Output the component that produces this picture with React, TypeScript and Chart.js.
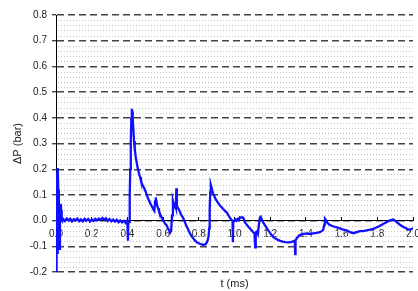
import React, { useEffect, useRef } from "react";
import { Chart, registerables } from "chart.js";

Chart.register(...registerables);

// time (ms)
const tMs = [
  0.000, 0.002, 0.004, 0.006, 0.008, 0.011, 0.013, 0.016, 0.019, 0.022, 0.025, 0.027, 0.029, 0.032, 0.036,
  0.04, 0.05, 0.06, 0.07, 0.08, 0.09, 0.10, 0.11, 0.12, 0.13, 0.14, 0.15, 0.16, 0.17, 0.18, 0.19,
  0.20, 0.21, 0.22, 0.23, 0.24, 0.25, 0.26, 0.27, 0.28, 0.29, 0.30, 0.31, 0.32, 0.33, 0.34, 0.35,
  0.36, 0.37, 0.38, 0.39, 0.395, 0.400, 0.403, 0.405, 0.410, 0.413, 0.416, 0.419, 0.422, 0.425,
  0.427, 0.429, 0.431, 0.433, 0.437, 0.441, 0.446, 0.451, 0.456, 0.461, 0.466, 0.471, 0.476, 0.481,
  0.487, 0.493, 0.499, 0.505, 0.511, 0.517, 0.523, 0.529, 0.535, 0.541, 0.547, 0.551, 0.555, 0.559,
  0.563, 0.567, 0.572, 0.577, 0.583, 0.589, 0.595, 0.601, 0.607, 0.613, 0.620, 0.626, 0.632, 0.639,
  0.645, 0.650, 0.655, 0.660, 0.664, 0.668, 0.672, 0.674, 0.677, 0.681, 0.687, 0.693, 0.699, 0.705,
  0.713, 0.721, 0.729, 0.737, 0.745, 0.753, 0.761, 0.770, 0.779, 0.789, 0.799, 0.809, 0.819, 0.829,
  0.838, 0.845, 0.850, 0.855, 0.858, 0.861, 0.864, 0.867, 0.871, 0.876, 0.881, 0.887, 0.893, 0.900,
  0.907, 0.914, 0.921, 0.928, 0.935, 0.942, 0.949, 0.956, 0.963, 0.970, 0.977, 0.984, 0.989, 0.991,
  0.993, 0.999, 1.005, 1.011, 1.017, 1.023, 1.030, 1.037, 1.044, 1.050, 1.057, 1.064, 1.072, 1.080,
  1.088, 1.096, 1.104, 1.112, 1.116, 1.119, 1.125, 1.131, 1.136, 1.142, 1.147, 1.152, 1.158, 1.165,
  1.172, 1.180, 1.189, 1.198, 1.208, 1.218, 1.230, 1.243, 1.256, 1.270, 1.285, 1.300, 1.315, 1.328,
  1.338, 1.340, 1.342, 1.352, 1.362, 1.375, 1.390, 1.405, 1.420, 1.440, 1.460, 1.478, 1.490, 1.497,
  1.503, 1.507, 1.512, 1.520, 1.530, 1.545, 1.560, 1.573, 1.590, 1.610, 1.629, 1.648, 1.666, 1.685,
  1.703, 1.722, 1.740, 1.760, 1.778, 1.795, 1.810, 1.825, 1.840, 1.855, 1.868, 1.881, 1.890, 1.899,
  1.912, 1.927, 1.940, 1.955, 1.970, 1.983, 2.000,
];

// pressure difference (bar)
const dPbar = [
  0.000, -0.21, 0.19, 0.10, -0.13, 0.205, 0.12, -0.05, -0.11, -0.02, 0.06, 0.065, 0.04, 0.01, 0.000,
  0.006, -0.002, 0.008, 0.001, 0.007, -0.003, 0.006, 0.000, 0.008, -0.002, 0.005, -0.003, 0.007, 0.000, 0.006, -0.004,
  0.005, -0.001, 0.007, 0.001, 0.008, 0.002, 0.010, 0.003, 0.009, -0.001, 0.006, -0.003, 0.004, -0.004, 0.003, -0.006,
  0.001, -0.007, -0.001, -0.009, -0.003, -0.010, -0.078, -0.012, -0.005, 0.10, 0.20, 0.31, 0.40, 0.435,
  0.41, 0.425, 0.40, 0.36, 0.31, 0.28, 0.25, 0.23, 0.21, 0.195, 0.18, 0.17, 0.155, 0.145,
  0.135, 0.128, 0.118, 0.108, 0.095, 0.084, 0.075, 0.066, 0.058, 0.050, 0.042, 0.038, 0.075, 0.090,
  0.072, 0.058, 0.048, 0.036, 0.026, 0.017, 0.008, 0.000, -0.007, -0.013, -0.019, -0.028, -0.036, -0.047,
  -0.040, 0.020, 0.078, 0.065, 0.055, 0.060, 0.050, 0.126, 0.060, 0.052, 0.045, 0.036, 0.026, 0.018,
  0.010, -0.004, -0.018, -0.030, -0.042, -0.053, -0.062, -0.070, -0.078, -0.084, -0.088, -0.091, -0.093, -0.094,
  -0.092, -0.085, -0.076, -0.060, -0.030, 0.040, 0.110, 0.140, 0.130, 0.115, 0.104, 0.095, 0.085, 0.078,
  0.070, 0.063, 0.057, 0.052, 0.046, 0.041, 0.036, 0.032, 0.024, 0.016, 0.008, 0.002, 0.000, -0.084,
  -0.005, -0.002, 0.004, 0.000, 0.006, 0.002, 0.013, 0.012, 0.013, 0.010, -0.005, -0.012, -0.019, -0.026,
  -0.032, -0.038, -0.044, -0.050, -0.104, -0.046, -0.042, -0.052, -0.020, 0.012, 0.015, 0.005, -0.004, -0.012,
  -0.020, -0.028, -0.038, -0.047, -0.056, -0.064, -0.070, -0.075, -0.079, -0.082, -0.084, -0.085, -0.084, -0.081,
  -0.078, -0.130, -0.076, -0.066, -0.058, -0.054, -0.052, -0.050, -0.052, -0.050, -0.048, -0.045, -0.040, -0.036,
  -0.015, 0.007, 0.002, -0.008, -0.015, -0.020, -0.024, -0.026, -0.030, -0.035, -0.039, -0.045, -0.049, -0.045,
  -0.041, -0.041, -0.038, -0.035, -0.032, -0.027, -0.022, -0.016, -0.010, -0.005, 0.000, 0.003, 0.004, 0.000,
  -0.008, -0.016, -0.022, -0.028, -0.033, -0.036, -0.030,
];

const X_MIN = 0;
const X_MAX = 2;
const X_STEP = 0.2;
const Y_MIN = -0.2;
const Y_MAX = 0.8;
const Y_STEP = 0.1;
const Y_MINOR_STEP = 0.02;
const X_TITLE = "t (ms)";
const Y_TITLE = "ΔP (bar)";

const FONT = "'Liberation Sans', Arial, sans-serif";

const minorGrid = {
  id: "minorGrid",
  beforeDatasetsDraw(chart: any) {
    const { ctx, chartArea, scales } = chart;
    const y = scales.y;
    const n = Math.round((Y_MAX - Y_MIN) / Y_MINOR_STEP);
    const ratio = Math.round(Y_STEP / Y_MINOR_STEP);
    ctx.save();
    ctx.strokeStyle = "#c4c4c4";
    ctx.lineWidth = 1;
    ctx.setLineDash([1, 2]);
    for (let i = 0; i <= n; i++) {
      if (i % ratio === 0) continue;
      const v = Y_MIN + i * Y_MINOR_STEP;
      const py = Math.round(y.getPixelForValue(v)) + 0.5;
      ctx.beginPath();
      ctx.moveTo(chartArea.left + 2, py);
      ctx.lineTo(chartArea.right, py);
      ctx.stroke();
    }
    ctx.restore();
  },
};

const xTitle = {
  id: "xTitle",
  afterDraw(chart: any) {
    const { ctx, chartArea } = chart;
    ctx.save();
    ctx.font = `11px ${FONT}`;
    ctx.fillStyle = "#222";
    ctx.textAlign = "center";
    ctx.textBaseline = "middle";
    ctx.fillText(X_TITLE, (chartArea.left + chartArea.right) / 2, chart.height - 7);
    ctx.restore();
  },
};

export default function App() {
  const ref = useRef<HTMLCanvasElement | null>(null);

  useEffect(() => {
    if (!ref.current) return;
    const data = tMs.map((t, i) => ({ x: t, y: dPbar[i] }));
    const chart = new Chart(ref.current, {
      type: "line",
      data: {
        datasets: [
          {
            data,
            borderColor: "#1010ff",
            borderWidth: 2.3,
            pointRadius: 0,
            tension: 0,
            fill: false,
          },
        ],
      },
      options: {
        animation: false,
        responsive: false,
        maintainAspectRatio: false,
        parsing: false as any,
        layout: { padding: { left: 0, right: 5, top: 15, bottom: 19 } },
        plugins: { legend: { display: false }, tooltip: { enabled: false } },
        scales: {
          x: {
            type: "linear",
            position: { y: 0 } as any,
            min: X_MIN,
            max: X_MAX,
            afterFit: (s: any) => {
              s.paddingLeft = 0;
              s.paddingRight = 0;
            },
            afterBuildTicks: (s: any) => {
              const ticks = [];
              for (let i = 0; i <= Math.round((X_MAX - X_MIN) / X_STEP); i++) ticks.push({ value: X_MIN + i * X_STEP });
              s.ticks = ticks;
            },
            ticks: {
              autoSkip: false,
              maxRotation: 0,
              padding: 12,
              color: "#222",
              font: { family: FONT, size: 10 },
              callback: (v: any) => Number(v).toFixed(1),
            },
            grid: {
              drawOnChartArea: false,
              drawTicks: true,
              tickLength: -4,
              tickColor: "#000",
              tickWidth: 1,
            },
            border: { display: true, color: "#000", width: 1 },
          },
          y: {
            type: "linear",
            position: "left",
            min: Y_MIN,
            max: Y_MAX,
            afterFit: (s: any) => {
              s.width = 56;
              s.paddingTop = 0;
              s.paddingBottom = 0;
            },
            afterBuildTicks: (s: any) => {
              const ticks = [];
              for (let i = 0; i <= Math.round((Y_MAX - Y_MIN) / Y_STEP); i++) ticks.push({ value: Y_MIN + i * Y_STEP });
              s.ticks = ticks;
            },
            ticks: {
              padding: 5,
              color: "#222",
              font: { family: FONT, size: 10 },
              callback: (v: any) => Number(v).toFixed(1),
            },
            grid: {
              color: "#444",
              lineWidth: 1.4,
              tickLength: 4,
              tickColor: "#444",
              tickBorderDash: [],
            },
            border: { display: true, color: "#000", width: 1, dash: [7, 4] },
            title: {
              display: true,
              text: Y_TITLE,
              color: "#222",
              font: { family: FONT, size: 11 },
              padding: { top: 11, bottom: 0 },
            },
          },
        },
      },
      plugins: [minorGrid, xTitle],
    });
    return () => chart.destroy();
  }, []);

  return (
    <div style={{ position: "fixed", left: 0, top: 0, width: 418, height: 291, background: "#fff" }}>
      <canvas ref={ref} width={418} height={291} style={{ display: "block", width: 418, height: 291 }} />
    </div>
  );
}
